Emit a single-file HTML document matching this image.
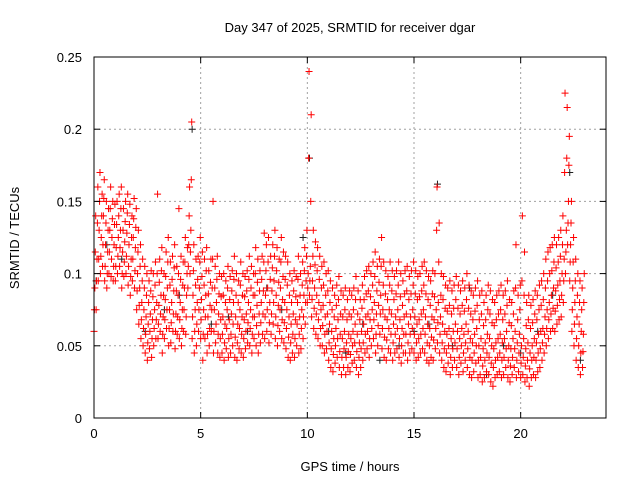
<!DOCTYPE html>
<html><head><meta charset="utf-8"><style>
body{margin:0;background:#fff;}
svg{display:block;font-family:"Liberation Sans",sans-serif;}
</style></head><body>
<svg id="chart" width="640" height="480"></svg>
<script>
const hoursPerStep = 0.1;
const redLow = [60,75,95,100,105,95,90,100,98,95, 95,100,105,90,98,100,92,85,95,90, 75,65,55,50,45,40,48,42,50,55, 55,60,45,55,62,50,52,60,48,58, 55,50,60,58,90,100,55,45,50,60, 55,40,55,45,50,60,45,52,45,42, 45,40,48,42,45,50,42,40,48,45, 42,48,52,50,45,55,50,45,52,58, 55,60,52,58,65,55,50,60,55,52, 48,42,40,45,42,50,45,48,55,65, 80,85,70,62,58,55,50,50,45,48, 40,35,32,38,42,35,30,35,30,35, 32,38,40,35,30,35,40,45,48,42, 50,55,45,50,58,48,42,40,48,45, 40,45,48,42,38,45,45,40,45,48, 45,40,42,45,48,45,40,38,42,40, 48,52,45,40,35,32,38,30,35,40, 35,30,38,32,40,35,30,28,32,38, 28,30,25,28,32,30,25,22,28,30, 32,28,30,35,28,25,30,35,28,32, 28,30,25,28,22,28,30,28,32,35, 40,45,50,55,60,62,60,65,68,70, 80,100,120,95,60,50,40,35,30,35];
const redLowMid = [75,95,110,112,120,105,100,115,110,105, 105,112,118,100,108,112,105,98,110,102, 88,78,68,62,58,52,60,55,62,68, 65,72,58,68,75,62,66,72,60,70, 68,62,75,70,105,115,70,60,65,75, 68,58,70,58,62,75,60,65,58,55, 58,52,62,55,58,65,56,52,62,58, 55,60,66,62,58,70,64,58,66,72, 70,75,66,72,80,70,64,75,68,66, 62,56,52,58,55,65,58,62,70,80, 90,95,82,76,72,68,62,64,58,60, 52,48,44,50,55,46,42,48,42,46, 44,50,52,46,42,48,52,58,60,55, 62,68,58,64,72,62,56,54,62,58, 52,58,62,55,50,58,58,52,58,62, 58,52,55,58,62,58,52,50,56,54, 62,66,58,52,48,45,50,42,48,52, 48,42,50,45,52,48,42,40,45,50, 40,42,36,40,45,42,38,35,40,42, 45,40,42,48,40,36,42,48,40,45, 38,42,36,40,34,40,42,40,45,48, 52,58,62,68,72,76,74,78,82,85, 95,115,135,108,75,65,55,50,45,46];
const redMid = [90,110,130,125,140,120,115,130,125,120, 118,125,130,115,122,128,120,110,125,118, 100,90,80,75,70,65,72,68,75,80, 78,85,70,82,90,75,80,88,72,85, 80,75,90,85,120,130,85,75,80,90, 82,75,85,70,78,90,75,80,72,68, 70,65,75,68,72,80,70,65,75,70, 68,72,80,75,70,85,78,72,80,88, 85,90,80,88,95,85,78,90,82,80, 75,70,65,72,68,80,70,75,85,95, 100,105,95,90,85,80,75,78,70,72, 65,60,55,62,68,58,55,60,52,58, 55,60,65,58,52,60,65,70,72,68, 75,80,72,78,85,75,70,68,75,72, 65,70,75,68,62,70,72,65,70,75, 70,65,68,72,75,70,65,62,70,68, 75,80,70,65,60,58,62,55,60,65, 60,55,62,58,65,60,55,52,58,62, 50,55,48,52,58,55,50,48,52,55, 58,52,55,60,50,48,55,60,52,58, 50,55,48,52,45,50,55,52,58,60, 62,70,75,80,85,90,88,92,95,100, 110,130,150,120,90,80,70,65,60,58];
const redMidHigh = [115,135,150,140,152,135,130,145,138,134, 134,140,145,130,136,142,134,125,138,132, 115,105,95,90,85,80,88,84,92,100, 94,102,85,98,108,92,96,104,88,100, 96,92,108,100,140,165,102,92,96,108, 98,92,102,86,94,110,90,96,86,84, 85,80,90,82,88,96,85,80,92,85, 84,88,96,90,85,100,94,88,96,108, 102,108,96,104,112,102,94,108,98,96, 92,85,80,88,84,96,85,92,102,112, 180,150,112,106,102,96,90,92,85,88, 80,75,70,78,82,72,70,75,68,72, 70,75,82,72,68,76,82,86,88,84, 92,98,88,94,105,92,86,82,92,88, 82,86,92,84,78,86,88,82,86,92, 86,82,84,88,92,86,82,78,86,84, 130,108,85,82,76,74,78,72,76,82, 76,72,78,74,82,76,72,68,74,78, 68,72,64,68,75,72,66,64,68,72, 75,68,72,78,66,64,72,90,68,75, 95,85,64,68,62,66,72,68,75,78, 82,90,95,100,102,108,104,108,112,120, 170,180,175,135,108,95,85,80,75,80];
const redHigh = [140,160,170,155,165,150,145,160,150,148, 150,155,160,145,150,155,148,140,152,145, 130,120,110,105,100,95,102,100,108,155, 110,118,100,115,125,108,112,120,105,145, 112,108,125,118,160,205,120,110,112,125, 115,110,118,102,110,150,105,112,100,98, 100,95,105,98,102,112,100,95,108,100, 98,102,112,105,100,118,110,102,112,128, 120,125,112,120,130,118,110,125,115,112, 108,100,95,102,98,112,100,108,118,130, 240,210,130,122,118,112,105,108,100,102, 95,90,85,92,98,88,85,90,82,88, 85,90,98,88,82,92,98,102,105,100, 108,115,105,110,125,108,102,98,108,102, 98,102,108,100,95,102,105,98,102,108, 102,98,100,105,108,102,98,95,102,100, 160,135,100,98,92,90,95,88,92,98, 92,88,95,90,100,92,88,85,90,95, 85,88,80,85,92,88,82,80,85,88, 92,85,88,95,82,80,88,120,85,92, 140,115,80,85,78,82,88,85,92,95, 100,110,115,118,120,125,120,125,130,140, 225,215,195,150,125,110,100,95,90,100];
const blackTimes = [0.1,0.6,1.3,2.4,3.3,4.0,4.6,5.5,6.3,7.2,8.1,8.8,9.8,10.1,11.0,11.8,12.6,13.4,14.3,15.0,15.7,16.1,16.8,17.6,18.4,19.2,20.0,20.8,21.5,22.3,22.8];
const blackVals = [0.095,0.12,0.11,0.06,0.075,0.085,0.2,0.065,0.07,0.06,0.09,0.075,0.125,0.18,0.06,0.045,0.065,0.04,0.05,0.06,0.065,0.162,0.05,0.09,0.03,0.05,0.045,0.06,0.085,0.17,0.04];
const xTicks = [0,5,10,15,20];
const yTicks = [0,0.05,0.1,0.15,0.2,0.25];
const yTickLabels = ["0","0.05","0.1","0.15","0.2","0.25"];

const NS="http://www.w3.org/2000/svg";
const svg=document.getElementById('chart');
const L=94,R=606,T=57,B=418;
const xS=v=>L+(v/24)*(R-L);
const yS=v=>B-(v/0.25)*(B-T);
function mk(tag,attrs,parent){const e=document.createElementNS(NS,tag);for(const k in attrs)e.setAttribute(k,attrs[k]);(parent||svg).appendChild(e);return e;}

const grid=mk('g',{});


xTicks.forEach(v=>{ if(v>0){const l=mk('line',{x1:xS(v),x2:xS(v),y1:T,y2:B,stroke:'#a0a0a0','stroke-dasharray':'2,3'},grid);

}});
yTicks.forEach(v=>{ if(v>0&&v<0.25){const l=mk('line',{x1:L,x2:R,y1:yS(v),y2:yS(v),stroke:'#a0a0a0','stroke-dasharray':'2,3'},grid);

}});

function cross(x,y,color,g){const p=mk('path',{d:`M${x-3.5},${y}h7M${x},${y-3.5}v7`,stroke:color,'stroke-width':1,fill:'none'},g);

}
const gb=mk('g',{});


blackTimes.forEach((t,i)=>cross(xS(t),yS(blackVals[i]),'#202020',gb));
const gr=mk('g',{});


[redLow,redLowMid,redMid,redMidHigh,redHigh].forEach((arr,k)=>arr.forEach((v,i)=>cross(xS(i*hoursPerStep+0.02*k),yS(v/1000),'#ff0000',gr)));

const frame=mk('rect',{x:L,y:T,width:R-L,height:B-T,fill:'none',stroke:'#000','stroke-width':1});


xTicks.forEach(v=>{mk('line',{x1:xS(v),x2:xS(v),y1:B,y2:B-6,stroke:'#000'});mk('line',{x1:xS(v),x2:xS(v),y1:T,y2:T+6,stroke:'#000'});
const t=mk('text',{x:xS(v),y:B+20,'text-anchor':'middle','font-size':13});t.textContent=v;

});
yTicks.forEach((v,i)=>{mk('line',{x1:L,x2:L+6,y1:yS(v),y2:yS(v),stroke:'#000'});mk('line',{x1:R,x2:R-6,y1:yS(v),y2:yS(v),stroke:'#000'});
const t=mk('text',{x:L-12,y:yS(v)+5,'text-anchor':'end','font-size':13});t.textContent=yTickLabels[i];

});
const title=mk('text',{x:350,y:32,'text-anchor':'middle','font-size':13});title.textContent='Day 347 of 2025, SRMTID for receiver dgar';


const xl=mk('text',{x:350,y:471,'text-anchor':'middle','font-size':13});xl.textContent='GPS time / hours';


const yl=mk('text',{x:19,y:238,'text-anchor':'middle','font-size':13,transform:'rotate(-90 19 238)'});yl.textContent='SRMTID / TECUs';


</script>
</body></html>
